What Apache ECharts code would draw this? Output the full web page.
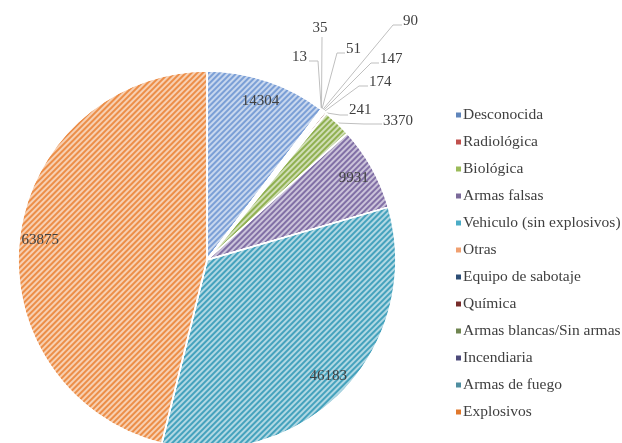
<!DOCTYPE html>
<html>
<head>
<meta charset="utf-8">
<script src="https://cdn.jsdelivr.net/npm/echarts@6/dist/echarts.min.js"></script>
<style>
  html, body { margin: 0; padding: 0; background: #fff; }
  #chart { width: 622px; height: 443px; }
</style>
</head>
<body>
<div id="chart"></div>
<script>
const categories = ['Desconocida', 'Radiológica', 'Biológica', 'Armas falsas', 'Vehiculo (sin explosivos)', 'Otras',
  'Equipo de sabotaje', 'Química', 'Armas blancas/Sin armas', 'Incendiaria', 'Armas de fuego', 'Explosivos'];
const values = [14304, 13, 35, 51, 90, 147, 174, 241, 3370, 9931, 46183, 63875];

const sliceColors = ['#7b9fd6', '#c0504d', '#9bbb59', '#8064a2', '#4bacc6', '#f79646',
  '#2c4d75', '#772c2a', '#8fb050', '#8270a6', '#45a2bd', '#ec8e48'];
const legendColors = ['#5f85bb', '#c0504d', '#9bbb59', '#7b6a9a', '#4bacc6', '#f0a070',
  '#2c4d75', '#772c2a', '#6f8550', '#4d4a7a', '#4f8ea0', '#e0782c'];

// big slices get their value inside the pie
const insideIdx = [0, 9, 10, 11];

// small slices: label anchor + leader line elbow (excel style)
const smallLabels = {
  1: { x: 307, y: 57, align: 'right', line: [[318, 61], [309, 61]] },
  2: { x: 320, y: 28, align: 'center', line: [[322, 37], [322, 37]] },
  3: { x: 346, y: 49, align: 'left', line: [[337, 53], [345, 53]] },
  4: { x: 403, y: 21, align: 'left', line: [[393, 25], [402, 25]] },
  5: { x: 380, y: 59, align: 'left', line: [[371, 63], [379, 63]] },
  6: { x: 369, y: 82, align: 'left', line: [[359, 86], [368, 86]] },
  7: { x: 349, y: 110, align: 'left', line: [[340, 115], [348, 115]] },
  8: { x: 383, y: 121, align: 'left', line: [[364, 124], [382, 124]] }
};

const labelFont = { fontFamily: 'Liberation Serif', fontSize: 15, color: '#404040' };

const chart = echarts.init(document.getElementById('chart'));

const pieData = categories.map((name, i) => ({
  name,
  value: values[i],
  itemStyle: { color: sliceColors[i] },
  label: { show: smallLabels[i] != null },
  labelLine: { show: smallLabels[i] != null }
}));

const labelData = categories.map((name, i) => ({
  name,
  value: values[i],
  label: { show: insideIdx.indexOf(i) >= 0 }
}));

chart.setOption({
  animation: false,
  legend: {
    orient: 'vertical',
    left: 451,
    top: 102,
    icon: 'rect',
    itemWidth: 5,
    itemHeight: 5,
    itemGap: 11,
    selectedMode: false,
    itemStyle: { decal: 'none', borderWidth: 0 },
    textStyle: { fontFamily: 'Liberation Serif', fontSize: 15.5, color: '#404040', padding: [0, 0, 0, -3] },
    data: categories.map((name, i) => ({ name, itemStyle: { color: legendColors[i] } }))
  },
  series: [
    {
      type: 'pie',
      center: [207, 260],
      radius: 189,
      startAngle: 90,
      clockwise: true,
      avoidLabelOverlap: false,
      silent: true,
      itemStyle: {
        borderColor: '#fff',
        borderWidth: 1.5,
        decal: {
          symbol: 'rect',
          symbolSize: 1,
          dashArrayX: [1, 0],
          dashArrayY: [1.4, 1.6],
          rotation: -Math.PI / 4,
          color: 'rgba(255,255,255,0.58)'
        }
      },
      label: Object.assign({ position: 'outside', formatter: '{c}' }, labelFont),
      labelLine: { lineStyle: { color: '#bfbfbf', width: 1 }, length: 10, length2: 10 },
      labelLayout: function (params) {
        const s = smallLabels[params.dataIndex];
        if (!s || !params.labelLinePoints) return {};
        const start = params.labelLinePoints[0];
        return {
          x: s.x,
          y: s.y,
          align: s.align,
          verticalAlign: 'middle',
          labelLinePoints: [start, s.line[0], s.line[1]]
        };
      },
      data: pieData
    },
    {
      // transparent ring used only to place the big values near the rim
      type: 'pie',
      center: [207, 260],
      radius: [141, 189],
      silent: true,
      itemStyle: { color: 'rgba(0,0,0,0)' },
      label: Object.assign({ position: 'inside', formatter: '{c}' }, labelFont),
      labelLine: { show: false },
      data: labelData
    }
  ]
});
</script>
</body>
</html>
